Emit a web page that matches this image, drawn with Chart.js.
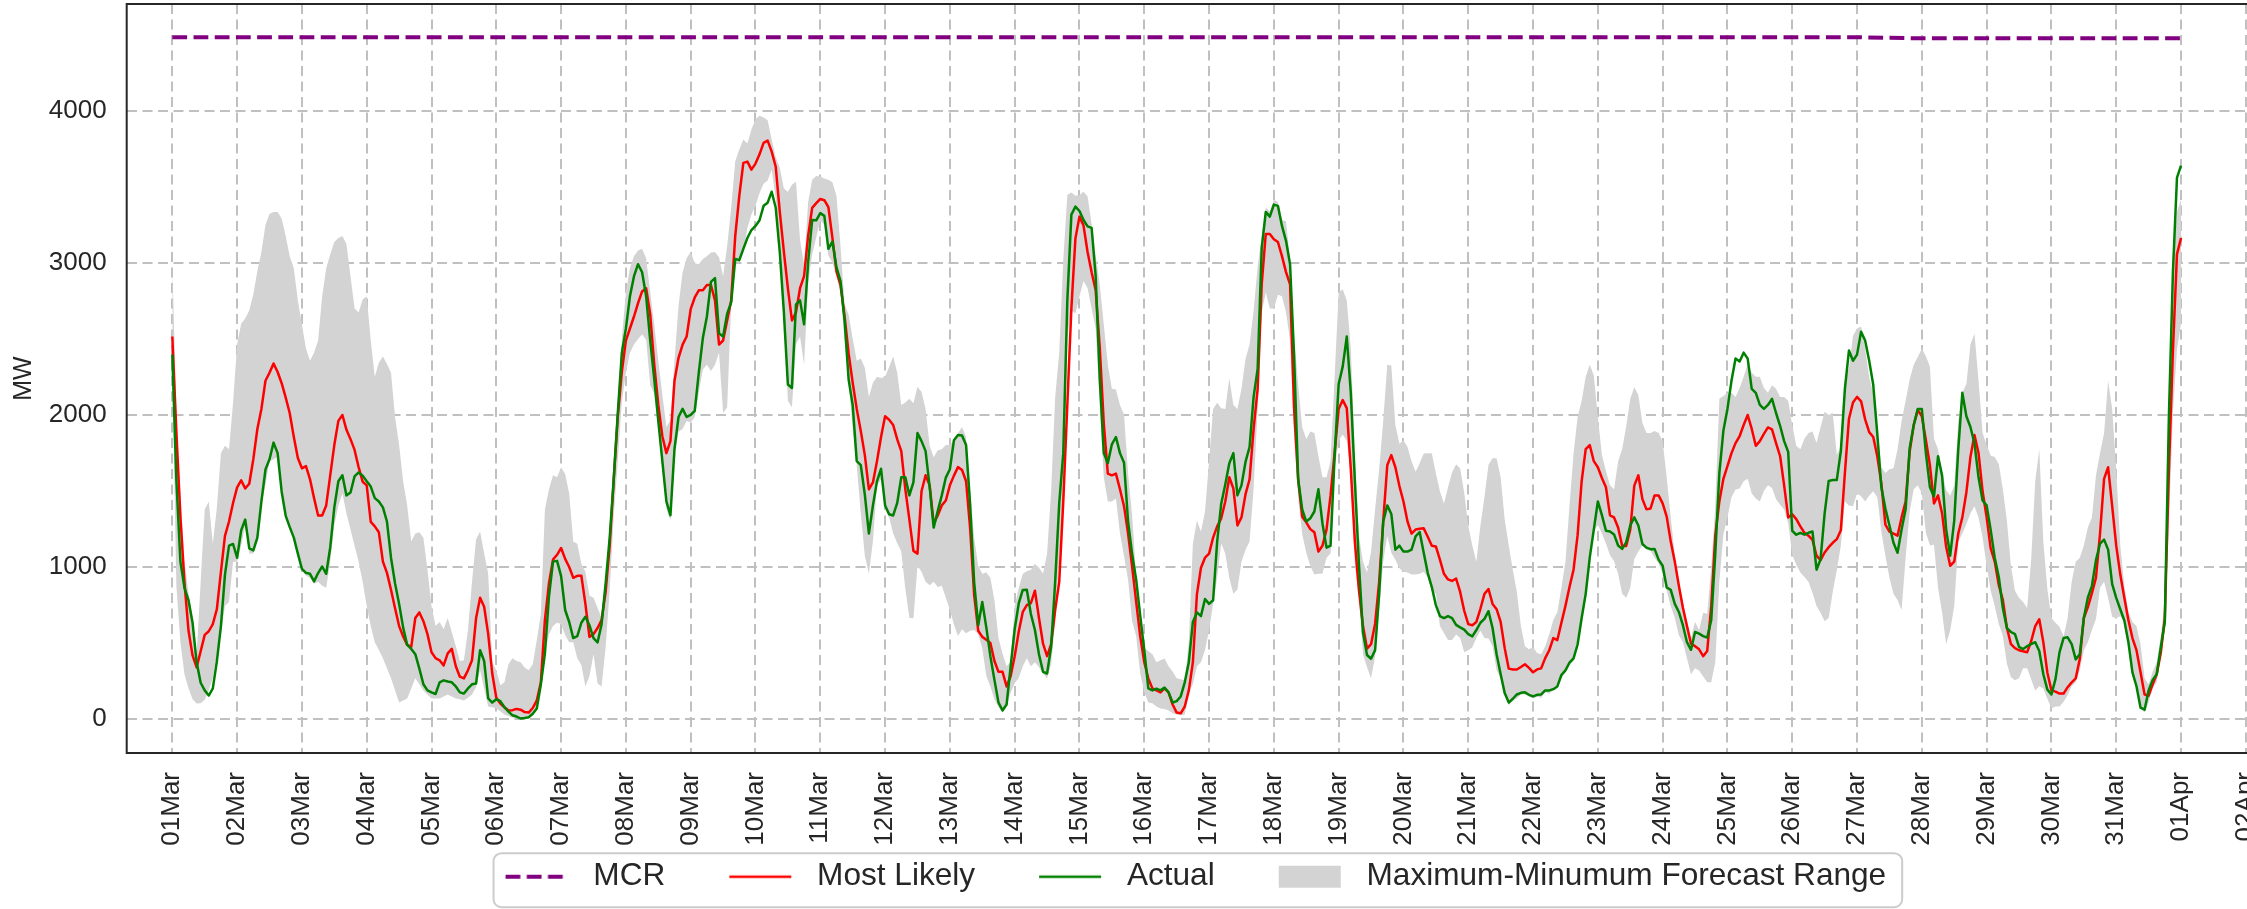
<!DOCTYPE html>
<html>
<head>
<meta charset="utf-8">
<script src="https://cdn.jsdelivr.net/npm/chart.js@4.4.1/dist/chart.umd.min.js"></script>
<style>
html,body{margin:0;padding:0;background:#ffffff;overflow:hidden;width:2247px;height:909px;}
canvas{display:block;}
</style>
</head>
<body>
<canvas id="c" width="2265" height="909" style="width:2265px;height:909px"></canvas>
<script>
// ---- data ----
const tickLabels = ['01Mar','02Mar','03Mar','04Mar','05Mar','06Mar','07Mar','08Mar','09Mar','10Mar',
  '11Mar','12Mar','13Mar','14Mar','15Mar','16Mar','17Mar','18Mar','19Mar','20Mar','21Mar','22Mar',
  '23Mar','24Mar','25Mar','26Mar','27Mar','28Mar','29Mar','30Mar','31Mar','01Apr','02Apr'];
const yTicks = [0, 1000, 2000, 3000, 4000];
const seriesLabels = ['MCR', 'Most Likely', 'Actual', 'Maximum-Minumum Forecast Range'];
const stepHours = 1.5; // one value every 1.5 hours from 01Mar 00:00 to 01Apr 00:00 (16 per day)

const mostLikely = [
  2516,1887,1330,897,580,418,339,445,553,577,624,723,968,1204,1299,1421,
  1524,1570,1516,1548,1709,1908,2040,2225,2278,2339,2283,2209,2114,2011,1855,1717,
  1649,1664,1577,1453,1339,1339,1405,1604,1802,1961,2000,1902,1841,1770,1657,1561,
  1537,1297,1267,1228,1035,961,850,728,611,543,487,474,664,701,643,558,
  439,400,386,352,431,461,347,278,267,320,386,662,797,738,558,299,
  140,101,77,56,58,66,61,45,42,72,122,241,650,892,1048,1080,
  1125,1053,1000,929,942,942,757,540,558,598,651,836,1140,1577,1987,2283,
  2490,2569,2648,2736,2813,2834,2662,2331,2066,1860,1749,1828,2225,2376,2463,2516,
  2696,2773,2820,2820,2855,2855,2754,2463,2490,2622,2754,3178,3442,3659,3667,3614,
  3654,3715,3790,3805,3733,3633,3336,3077,2833,2622,2675,2834,2913,3178,3363,3394,
  3421,3413,3368,3164,2945,2855,2648,2405,2212,2040,1895,1736,1511,1556,1696,1855,
  1992,1969,1934,1839,1762,1511,1312,1106,1088,1498,1603,1537,1286,1339,1405,1437,
  1537,1601,1657,1638,1564,1254,815,580,540,521,500,381,310,310,214,281,
  413,574,704,749,762,844,664,495,413,492,717,902,1431,2066,2701,3162,
  3305,3246,3072,2939,2820,2447,1947,1614,1603,1614,1511,1400,1220,1003,770,543,
  373,267,201,188,175,201,175,95,42,37,82,188,373,820,995,1061,
  1088,1193,1267,1320,1431,1590,1516,1273,1326,1479,1577,1908,2172,2860,3191,3191,
  3156,3138,3045,2940,2860,2040,1577,1331,1294,1249,1228,1101,1140,1246,1471,1749,
  2040,2098,2045,1643,1167,850,611,463,492,627,902,1299,1669,1736,1656,1532,
  1431,1299,1220,1246,1251,1254,1199,1140,1135,1048,955,918,908,924,836,712,
  624,617,638,725,823,855,757,722,638,466,331,326,325,342,360,336,
  307,326,333,400,452,532,519,633,744,868,982,1209,1564,1775,1802,1696,
  1656,1585,1524,1339,1326,1260,1140,1138,1246,1535,1603,1447,1379,1384,1471,1471,
  1418,1331,1167,1035,876,731,611,495,479,458,413,447,744,1207,1431,1580,
  1664,1749,1815,1860,1934,2000,1908,1797,1828,1876,1918,1905,1815,1730,1537,1326,
  1347,1315,1267,1225,1206,1178,1074,1045,1095,1130,1159,1183,1241,1617,1974,2082,
  2119,2090,1971,1887,1855,1728,1550,1278,1233,1220,1206,1326,1431,1760,1934,2032,
  1992,1834,1669,1418,1471,1352,1133,1008,1035,1220,1326,1492,1723,1868,1749,1498,
  1326,1122,1035,881,783,601,492,466,452,445,439,511,611,656,505,304,
  188,180,167,167,209,241,267,394,664,736,828,929,1220,1580,1656,1400,
  1140,950,797,651,532,453,307,161,153,228,294,434,664,1630,2424,3058,
  3164
];

const actual = [
  2397,1569,1035,863,780,633,373,238,188,154,201,379,611,950,1140,1151,
  1061,1241,1312,1122,1109,1193,1431,1641,1709,1818,1749,1495,1336,1262,1193,1088,
  987,961,955,905,960,1003,955,1130,1392,1564,1603,1471,1490,1596,1622,1601,
  1564,1529,1453,1431,1392,1299,1061,892,757,601,487,461,426,331,228,188,
  175,164,241,254,246,241,214,175,167,201,228,233,452,381,135,108,
  130,117,77,48,24,16,3,6,11,34,69,228,430,804,1035,1040,
  940,717,638,532,545,633,672,617,532,503,624,894,1193,1577,2013,2410,
  2569,2781,2913,2992,2939,2781,2490,2236,1961,1696,1431,1340,1775,1987,2040,1987,
  2000,2027,2278,2506,2648,2876,2900,2537,2516,2667,2741,3027,3019,3093,3164,3217,
  3244,3281,3376,3397,3469,3363,3072,2680,2200,2178,2728,2754,2596,3006,3283,3281,
  3328,3310,3093,3141,2971,2881,2622,2233,2066,1696,1670,1476,1220,1405,1564,1646,
  1405,1347,1339,1421,1590,1590,1471,1558,1881,1828,1762,1529,1259,1368,1471,1588,
  1643,1834,1868,1865,1802,1410,897,617,770,601,413,257,108,56,95,344,
  590,760,849,850,691,585,426,310,299,474,902,1418,1749,2754,3318,3371,
  3342,3283,3241,3231,2913,2246,1749,1683,1807,1855,1749,1686,1299,1085,916,680,
  452,201,188,199,188,206,175,108,117,148,241,373,638,701,677,789,
  757,781,1167,1416,1542,1683,1749,1471,1537,1691,1789,2119,2305,3098,3336,3305,
  3384,3376,3244,3146,2992,2384,1577,1379,1299,1320,1365,1511,1286,1127,1140,1728,
  2204,2318,2516,2146,1564,1021,569,421,396,453,823,1299,1405,1349,1114,1140,
  1101,1101,1114,1201,1230,1093,960,868,749,677,664,677,664,619,603,588,
  558,543,585,633,659,709,598,426,294,170,108,133,161,172,175,159,
  148,159,161,188,188,196,214,289,320,371,399,490,664,823,1061,1246,
  1431,1341,1238,1233,1214,1141,1119,1162,1273,1326,1273,1151,1127,1117,1119,1048,
  1008,865,849,757,704,617,505,455,572,561,545,535,651,1088,1616,1897,
  2040,2225,2371,2352,2410,2371,2172,2146,2066,2040,2066,2106,2013,1929,1828,1757,
  1238,1212,1225,1212,1225,1233,982,1051,1352,1566,1572,1572,1762,2172,2424,2357,
  2397,2548,2490,2357,2199,1876,1524,1384,1273,1159,1093,1246,1379,1783,1934,2040,
  2040,1749,1524,1463,1728,1601,1249,1074,1305,1775,2146,1992,1921,1813,1590,1437,
  1405,1244,1061,934,730,598,572,558,474,460,479,492,505,447,294,193,
  161,262,440,532,537,492,392,426,664,799,876,1045,1153,1180,1114,887,
  797,722,648,505,307,215,74,61,188,257,294,471,638,1987,2940,3561,
  3640
];

const rangeMax = [
  2992,2014,1480,1035,830,664,426,902,1378,1431,1153,1392,1749,1797,1775,2080,
  2463,2601,2635,2688,2794,2947,3072,3252,3323,3336,3336,3291,3178,3043,2966,2754,
  2596,2437,2357,2410,2490,2781,2966,3058,3138,3164,3178,3125,2913,2702,2675,2760,
  2781,2490,2252,2344,2384,2336,2278,1987,1802,1564,1405,1167,1220,1228,1193,982,
  744,611,638,590,664,572,479,381,386,585,902,1180,1233,1088,955,373,
  320,222,241,360,399,381,373,339,320,360,519,691,1378,1511,1603,1590,
  1656,1611,1484,1167,1153,1021,968,812,797,731,664,916,1220,1736,2093,2503,
  2807,2966,3045,3082,3093,3032,2807,2596,2357,2133,1921,1966,2357,2720,2939,3032,
  3072,2998,2992,3027,3045,3069,3072,3037,2913,3111,3363,3670,3746,3812,3786,3879,
  3945,3969,3958,3939,3812,3696,3627,3490,3469,3514,3535,3151,2990,3402,3548,3572,
  3569,3556,3548,3532,3442,3109,2728,2659,2503,2357,2371,2310,2119,2212,2252,2244,
  2252,2315,2384,2278,2066,2082,2106,2077,2186,2151,2040,1797,1722,1768,1775,1802,
  1802,1831,1880,1921,1855,1505,1193,1008,955,963,929,781,532,431,347,373,
  744,862,955,971,982,1021,995,955,1088,1498,2119,2410,3019,3447,3463,3442,
  3447,3469,3437,3257,3050,2860,2596,2331,2172,2167,2066,2003,1617,1339,942,717,
  466,447,426,373,386,397,347,313,267,262,254,506,1153,1305,1233,1365,
  1696,2040,2080,2045,2040,2241,2066,2040,2172,2368,2463,2685,2979,3178,3363,3340,
  3416,3402,3283,3275,3019,2521,2199,1921,1841,1892,1881,1728,1590,1590,1696,2252,
  2807,2828,2754,2437,1749,1207,1034,963,1100,1379,1643,1961,2331,2326,1934,1810,
  1833,1789,1696,1627,1683,1746,1749,1749,1617,1498,1418,1524,1622,1675,1648,1490,
  1273,1141,1034,1273,1458,1672,1715,1715,1590,1312,1141,982,836,612,479,458,
  474,434,426,479,558,651,704,863,1034,1405,1749,1987,2093,2252,2331,2260,
  1987,1738,1630,1537,1511,1696,1775,1926,2106,2183,2132,1947,1881,1881,1894,1881,
  1828,1590,1326,1080,900,770,650,532,640,585,700,691,1000,1405,2106,2125,
  2146,2146,2119,2178,2251,2336,2278,2252,2252,2178,2146,2196,2172,2119,2119,2093,
  1934,1797,1775,1844,1881,1892,1815,1921,2021,2000,2014,1738,1789,2225,2305,2521,
  2569,2582,2437,2246,2146,1908,1656,1619,1643,1649,1775,1961,2093,2233,2331,2381,
  2437,2387,2318,1844,1775,1630,1506,1469,1537,1961,2146,2204,2463,2535,2225,1881,
  1802,1733,1723,1678,1511,1305,1008,844,797,770,730,1050,1564,1775,1167,852,
  664,633,606,543,664,902,1034,1061,1141,1262,1326,1603,1749,1881,2225,2040,
  1643,1141,876,704,638,611,492,268,228,310,373,545,770,2014,2980,3336,
  3420
];

const rangeMin = [
  2300,876,505,294,201,130,101,103,127,188,267,426,560,743,770,1035,
  1034,1141,1272,1088,1088,1167,1405,1537,1696,1709,1723,1484,1326,1246,1180,1061,
  981,942,929,889,902,876,863,1035,1273,1405,1484,1352,1246,1140,1035,902,
  743,611,505,453,400,334,267,188,108,122,135,201,267,228,188,161,
  135,135,135,148,161,148,135,130,122,140,161,210,320,201,82,77,
  69,50,29,19,8,5,3,8,16,24,56,188,426,558,611,633,
  624,553,505,505,399,355,214,281,426,233,214,474,850,1334,1696,2088,
  2278,2410,2463,2500,2529,2495,2198,2140,1908,1643,1380,1307,1740,1889,1908,1961,
  1950,1987,2146,2299,2331,2289,2331,2410,2013,2051,2728,3006,3000,3072,3230,3320,
  3376,3461,3521,3543,3614,3424,3151,2662,2093,2051,2463,2516,2331,2860,3058,3167,
  3283,3246,3050,3003,2913,2802,2490,2215,1908,1670,1352,1074,955,1170,1537,1574,
  1380,1326,1220,1156,1101,855,664,662,1008,969,902,879,902,868,876,797,
  717,622,545,590,564,580,585,558,466,283,214,130,77,43,82,172,
  235,270,347,400,347,373,341,299,267,360,638,1061,1380,2521,2688,2667,
  2781,2881,2834,2701,2569,2066,1590,1431,1431,1450,1220,1072,916,643,545,299,
  175,108,103,82,69,66,56,37,29,24,29,175,228,347,373,453,
  585,757,929,1154,1088,927,823,852,1034,1114,1167,1516,2040,2675,2807,2701,
  2701,2791,2781,2675,2490,1847,1458,1215,1093,1006,950,955,955,1061,1088,1650,
  1828,1871,1828,1617,1008,797,426,341,267,413,717,1034,1206,1093,1048,992,
  968,963,950,950,955,968,930,844,823,612,566,519,519,556,532,439,
  452,471,532,580,532,529,479,320,267,156,90,119,135,161,161,148,
  135,146,140,175,167,188,209,267,307,360,380,479,630,810,1035,1233,
  1278,1220,1154,1077,1040,955,823,797,862,1053,1101,1141,1114,1106,1061,1021,
  955,844,744,664,550,505,399,294,333,318,280,241,241,373,902,1215,
  1326,1458,1510,1516,1564,1580,1484,1450,1431,1500,1537,1519,1445,1410,1378,1290,
  1080,1014,963,934,902,828,743,699,643,664,836,979,1141,1431,1405,1400,
  1484,1466,1431,1469,1498,1458,1233,1074,929,823,783,717,1061,1365,1511,1537,
  1484,1225,1141,1146,863,701,492,582,744,1167,1220,1283,1352,1400,1326,1193,
  1008,844,743,625,545,363,275,254,267,334,333,262,188,215,201,133,
  69,82,82,114,156,215,240,320,452,505,585,659,863,902,796,670,
  664,675,638,479,280,201,69,42,108,204,241,421,600,1273,2013,2432,
  2600
];

const mcrDays = [0,1,2,3,4,5,6,7,8,9,10,11,12,13,14,15,16,17,18,19,20,21,22,23,24,25,26,27,28,29,30,31];
const mcr = [4485,4485,4485,4485,4485,4485,4485,4485,4485,4485,4485,4485,4485,4485,4485,4485,
  4485,4485,4485,4485,4485,4485,4485,4485,4485,4485,4485,4478,4478,4478,4478,4478];

// ---- helpers ----
const toPts = arr => arr.map((v, i) => ({x: i * stepHours / 24, y: v}));
const TEXT = '#262626';
const LEGEND_FONT = 31.6;
const HANDLE_LEN = 62;
const HANDLE_LEAD = 54;   // blank before each handle (space between legend entries)
const HANDLE_TAIL = 10;   // blank between handle and the label text (plus half font)
Chart.defaults.font.family = "'Liberation Sans', Arial, Helvetica, sans-serif";
Chart.defaults.color = TEXT;

function legendHandle(kind, color) {
  const c = document.createElement('canvas');
  c.width = HANDLE_LEAD + HANDLE_LEN + HANDLE_TAIL; c.height = 32;
  const g = c.getContext('2d');
  if (kind === 'patch') {
    g.fillStyle = color;
    g.fillRect(HANDLE_LEAD, 5, HANDLE_LEN, 22);
  } else {
    g.strokeStyle = color;
    g.lineWidth = kind === 'dash' ? 4 : 2.5;
    if (kind === 'dash') g.setLineDash([14.8, 6.4]);
    g.beginPath(); g.moveTo(HANDLE_LEAD, 16); g.lineTo(HANDLE_LEAD + HANDLE_LEN, 16); g.stroke();
  }
  return c;
}
const handles = [
  legendHandle('dash', '#800080'),
  legendHandle('line', '#ff0000'),
  legendHandle('line', '#008000'),
  legendHandle('patch', '#d3d3d3')
];

const framePlugin = {
  id: 'frame',
  afterLayout(chart) {
    const lg = chart.legend;
    if (lg) { lg.left -= HANDLE_LEAD / 2; lg.right -= HANDLE_LEAD / 2; }
  },
  afterDraw(chart) {
    const {ctx, chartArea: a} = chart;
    ctx.save();
    ctx.strokeStyle = TEXT;
    ctx.lineWidth = 2;
    ctx.strokeRect(a.left, a.top, a.right - a.left, a.bottom - a.top);
    const hb = chart.legend && chart.legend.legendHitBoxes;
    if (hb && hb.length) {
      const first = hb[0], last = hb[hb.length - 1];
      const cy = first.top + LEGEND_FONT / 2;
      const x0 = first.left + HANDLE_LEAD - 12, x1 = last.left + last.width + 16;
      const y0 = cy - 23.5, y1 = cy + 30.5;
      ctx.strokeStyle = '#cccccc';
      ctx.lineWidth = 2;
      ctx.beginPath();
      ctx.roundRect(x0, y0, x1 - x0, y1 - y0, 8);
      ctx.stroke();
    }
    ctx.restore();
  }
};

const gridOpts = {color: '#c0c0c0', lineWidth: 2, drawTicks: false};
const borderOpts = {display: false, dash: [10, 5.5]};

new Chart(document.getElementById('c'), {
  type: 'line',
  data: {
    datasets: [
      {label: seriesLabels[0], data: mcrDays.map((d, i) => ({x: d, y: mcr[i]})),
       borderColor: '#800080', borderWidth: 4, borderDash: [14.8, 6.4], pointRadius: 0, fill: false},
      {label: seriesLabels[2], data: toPts(actual),
       borderColor: '#008000', borderWidth: 2.5, pointRadius: 0, fill: false, borderJoinStyle: 'round'},
      {label: seriesLabels[1], data: toPts(mostLikely),
       borderColor: '#ff0000', borderWidth: 2.5, pointRadius: 0, fill: false, borderJoinStyle: 'round'},
      {label: seriesLabels[3], data: toPts(rangeMax),
       borderColor: 'rgba(0,0,0,0)', borderWidth: 0, backgroundColor: '#d3d3d3', pointRadius: 0, fill: '+1'},
      {label: 'min', data: toPts(rangeMin),
       borderColor: 'rgba(0,0,0,0)', borderWidth: 0, pointRadius: 0, fill: false}
    ]
  },
  options: {
    responsive: false,
    animation: false,
    devicePixelRatio: 1,
    events: [],
    layout: {padding: {top: 4, bottom: 6.5, left: 0, right: 0}},
    plugins: {
      tooltip: {enabled: false},
      legend: {
        position: 'bottom',
        fullSize: false,
        labels: {
          usePointStyle: true,
          pointStyleWidth: HANDLE_LEAD + HANDLE_LEN + HANDLE_TAIL,
          padding: 10,
          color: TEXT,
          font: {size: LEGEND_FONT},
          generateLabels: () => seriesLabels.map((t, i) => ({
            text: t, pointStyle: handles[i], fillStyle: 'rgba(0,0,0,0)',
            strokeStyle: 'rgba(0,0,0,0)', lineWidth: 0, hidden: false, fontColor: TEXT, datasetIndex: i
          }))
        }
      }
    },
    scales: {
      x: {
        type: 'linear',
        min: -0.704,
        max: 32.296,
        afterBuildTicks: s => { s.ticks = tickLabels.map((_, i) => ({value: i})); },
        afterFit: s => { s.height = 97.9; s.paddingLeft = 0; s.paddingRight = 0; },
        ticks: {autoSkip: false, minRotation: 90, maxRotation: 90, padding: 19,
                font: {size: 26}, color: TEXT, callback: v => tickLabels[v]},
        grid: gridOpts,
        border: borderOpts
      },
      y: {
        min: -224,
        max: 4704,
        afterBuildTicks: s => { s.ticks = yTicks.map(v => ({value: v})); },
        afterFit: s => { s.width = 126.7; s.paddingTop = 0; s.paddingBottom = 0; },
        ticks: {padding: 20, font: {size: 26}, color: TEXT, callback: v => String(v)},
        title: {display: true, text: 'MW', font: {size: 25}, color: TEXT, padding: {top: 9, bottom: 0}},
        grid: gridOpts,
        border: borderOpts
      }
    }
  },
  plugins: [framePlugin]
});
</script>
</body>
</html>
